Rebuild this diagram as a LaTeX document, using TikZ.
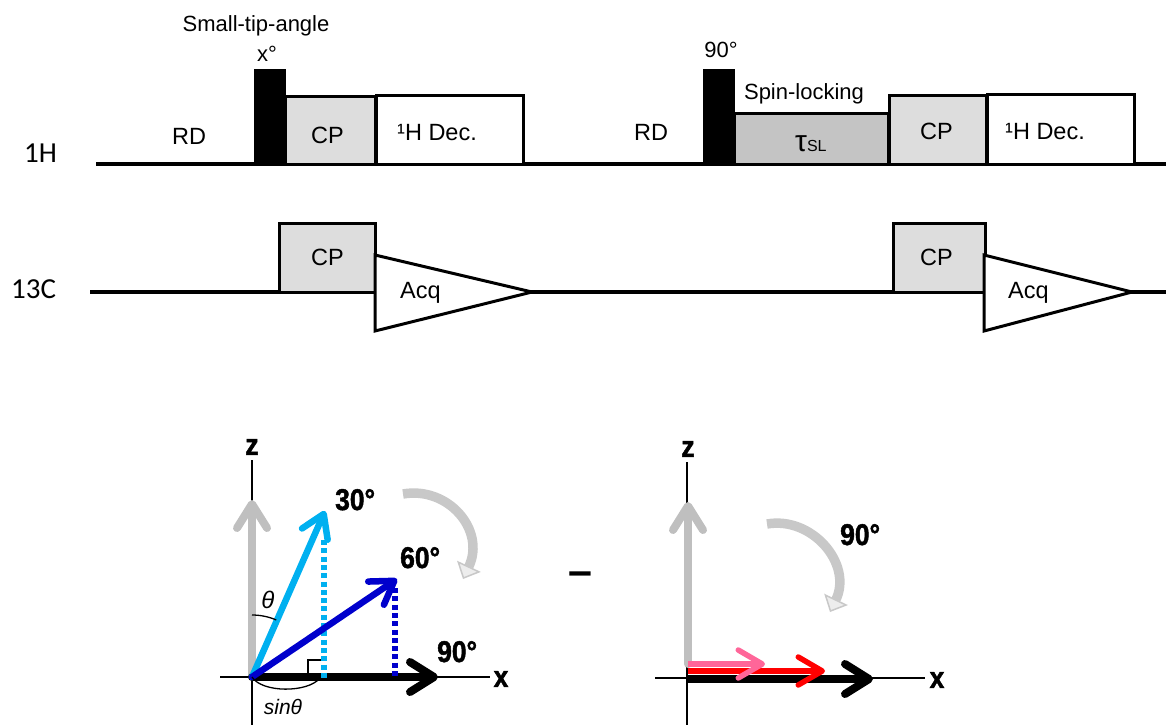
\documentclass[tikz,border=0pt]{standalone}
\usepackage{fontspec}
\setmainfont{Liberation Sans}
\newfontfamily\carl{Carlito}
\newfontfamily\nb[FakeStretch=0.88, BoldFeatures={FakeBold=1.6}]{Liberation Sans}
\usetikzlibrary{arrows.meta}
\definecolor{cpgray}{HTML}{DDDDDD}
\definecolor{slgray}{HTML}{C4C4C4}
\definecolor{axgray}{HTML}{BFBFBF}
\definecolor{cyanv}{HTML}{00B0F0}
\definecolor{bluev}{HTML}{0000CC}
\definecolor{pinkv}{HTML}{FF6699}
\definecolor{redv}{HTML}{FF0000}
\definecolor{curvgray}{HTML}{C8C8C8}
\definecolor{curvlight}{HTML}{EDEDED}
\begin{document}
\begin{tikzpicture}[x=1pt,y=-1pt,
  seqline/.style={line width=4.5pt},
  pbox/.style={draw, line width=3pt, outer sep=0pt, inner sep=0pt, anchor=south west},
  pulse/.style={fill=black, draw=black, line width=1pt, outer sep=0pt, inner sep=0pt, anchor=south west},
  lbl/.style={font=\fontsize{23.5}{23.5}\selectfont, inner sep=0pt, anchor=base west},
  smalllbl/.style={font=\fontsize{22}{22}\selectfont, inner sep=0pt, anchor=base},
  nuc/.style={font=\carl\fontsize{29}{29}\selectfont, inner sep=0pt, anchor=base west},
  boldlbl/.style={font=\nb\bfseries\fontsize{30}{30}\selectfont, inner sep=0pt, anchor=base west},
  axlbl/.style={font=\nb\bfseries\fontsize{30}{30}\selectfont, inner sep=0pt},
  thinax/.style={line width=1.3pt},
  bigvec/.style={line width=8pt, line cap=round, -{Straight Barb[length=24pt,width=30pt,round]}},
  midvec/.style={line width=6.5pt, line cap=round, -{Straight Barb[length=22pt,width=28pt,round]}},
  smallvec/.style={line width=5.5pt, -{Straight Barb[length=24pt,width=28pt,round]}},
  dotv/.style={line width=5.5pt, dash pattern=on 5pt off 3.3pt},
  curv/.style={line width=9.5pt, draw=curvgray, -{Triangle[length=14pt,width=26pt,line width=1.5pt,fill=curvlight]}}
]
\path[use as bounding box] (0,0) rectangle (1166,725);

% channel lines (drawn first, boxes cover them)
\coordinate (h0) at (96,164);
\coordinate (h1) at (1166,164);
\coordinate (c0) at (90,292);
\coordinate (c1) at (1166,292);
\draw[seqline] (h0) -- (h1);
\draw[seqline] (c0) -- (c1);

% ---------- pulse sequence, first part ----------
\node[pulse, minimum width=31, minimum height=95] (p1) at (254,164) {};
\node[pbox, fill=cpgray, minimum width=90, minimum height=68] (cpA) at (285,164) {};
\node[pbox, fill=white, minimum width=147, minimum height=69] (decA) at (376,164) {};
\node[pbox, fill=cpgray, minimum width=96, minimum height=69] (cpC1) at (279,292) {};
\draw[line width=3pt, fill=white, line join=miter] (375,255) -- (532,292) -- (375,331) -- cycle;

% ---------- pulse sequence, second part ----------
\node[pulse, minimum width=31, minimum height=95] (p2) at (703,164) {};
\node[pbox, fill=slgray, minimum width=154, minimum height=51] (sl) at (734,164) {};
\node[pbox, fill=cpgray, minimum width=97, minimum height=69] (cpB) at (889,164) {};
\node[pbox, fill=white, minimum width=147, minimum height=70] (decB) at (987,164) {};
\node[pbox, fill=cpgray, minimum width=92, minimum height=69] (cpC2) at (893,292) {};
\draw[line width=3pt, fill=white, line join=miter] (984,255) -- (1132,292) -- (984,331) -- cycle;

% labels
\node[nuc] (l1H) at (24,162) {1H};
\node[nuc] (l13C) at (11,298) {13C};
\node[smalllbl] (sta) at (256,32) {Small-tip-angle};
\node[smalllbl] (xdeg) at (267,62) {x°};
\node[lbl] (rd1) at (172,144) {RD};
\node[lbl] (cpAt) at (311,143) {CP};
\node[lbl] (decAt) at (397,140) {¹H Dec.};
\node[lbl] (cpC1t) at (311,265) {CP};
\node[lbl] (acq1) at (400,298) {Acq};
\node[smalllbl] (n90) at (721,58) {90°};
\node[smalllbl] (spl) at (804,99) {Spin-locking};
\node[lbl] (rd2) at (634,140) {RD};
\node[inner sep=0pt, anchor=base west] (tsl) at (795,151) {{\fontsize{30}{30}\selectfont τ}{\fontsize{16}{16}\selectfont SL}};
\node[lbl] (cpBt) at (920,139) {CP};
\node[lbl] (decBt) at (1005,139) {¹H Dec.};
\node[lbl] (cpC2t) at (920,265) {CP};
\node[lbl] (acq2) at (1008,298) {Acq};

% ---------- left vector diagram ----------
\coordinate (O1) at (252,677);
\coordinate (xa1) at (220,677);
\coordinate (xb1) at (490,677);
\coordinate (za1) at (252,460);
\coordinate (zb1) at (252,725);
\draw[thinax] (xa1) -- (xb1);
\draw[thinax] (za1) -- (zb1);
\node[axlbl] (z1) at (252,447) {z};
\node[axlbl] (x1) at (501,679) {x};
\coordinate (g1) at (252,500);
\draw[bigvec, draw=axgray] (O1) -- (g1);
\coordinate (k1) at (438,677);
\draw[bigvec, draw=black] (O1) -- (k1);
\coordinate (d1a) at (324,540);
\coordinate (d1b) at (324,679);
\coordinate (d2a) at (395,588);
\coordinate (d2b) at (395,679);
\draw[dotv, draw=cyanv] (d1a) -- (d1b);
\draw[dotv, draw=bluev] (d2a) -- (d2b);
\coordinate (v30) at (325,511);
\coordinate (v60) at (397,579);
\draw[midvec, draw=cyanv] (O1) -- (v30);
\draw[midvec, draw=bluev] (O1) -- (v60);
\draw[line width=1.3pt] (O1) ++(-90:62) arc[start angle=-90, end angle=-67, radius=62];
\node[font=\itshape\fontsize{24}{24}\selectfont, inner sep=0pt] (th) at (268,600) {θ};
\draw[line width=1.3pt] (O1) .. controls (262,693) and (308,693) .. (320,678);
\node[font=\itshape\fontsize{21}{21}\selectfont, inner sep=0pt] (sinth) at (283,707) {sinθ};
\draw[line width=1.3pt] (308,673) -- (308,660) -- (321,660);
\node[boldlbl] (t30) at (335,510) {30°};
\node[boldlbl] (t60) at (400,568) {60°};
\node[boldlbl] (t90a) at (437,662) {90°};
\coordinate (ca1) at (403,494);
\coordinate (ca2) at (463,579);
\draw[curv] (ca1) .. controls (448,486) and (486,530) .. (ca2);

% minus
\node[font=\bfseries\fontsize{43}{43}\selectfont, inner sep=0pt, anchor=base] (minus) at (580,585) {–};

% ---------- right vector diagram ----------
\coordinate (O2) at (687,678);
\coordinate (xa2) at (655,678);
\coordinate (xb2) at (925,678);
\coordinate (za2) at (687,462);
\coordinate (zb2) at (687,725);
\draw[thinax] (xa2) -- (xb2);
\draw[thinax] (za2) -- (zb2);
\node[axlbl] (z2) at (688,449) {z};
\node[axlbl] (x2) at (937,680) {x};
\coordinate (g2) at (688,502);
\coordinate (g2b) at (688,664);
\draw[bigvec, draw=axgray] (g2b) -- (g2);
\coordinate (k2a) at (687,679);
\coordinate (k2) at (873,679);
\draw[bigvec, draw=black, line cap=butt] (k2a) -- (k2);
\coordinate (r0) at (688,671);
\coordinate (r1) at (825,671);
\draw[smallvec, draw=redv] (r0) -- (r1);
\coordinate (q0) at (688,664);
\coordinate (q1) at (765,664);
\draw[smallvec, draw=pinkv] (q0) -- (q1);
\coordinate (cb1) at (767,524);
\coordinate (cb2) at (830,612);
\draw[curv] (cb1) .. controls (812,516) and (853,564) .. (cb2);
\node[boldlbl] (t90b) at (840,545) {90°};
\end{tikzpicture}
\end{document}
